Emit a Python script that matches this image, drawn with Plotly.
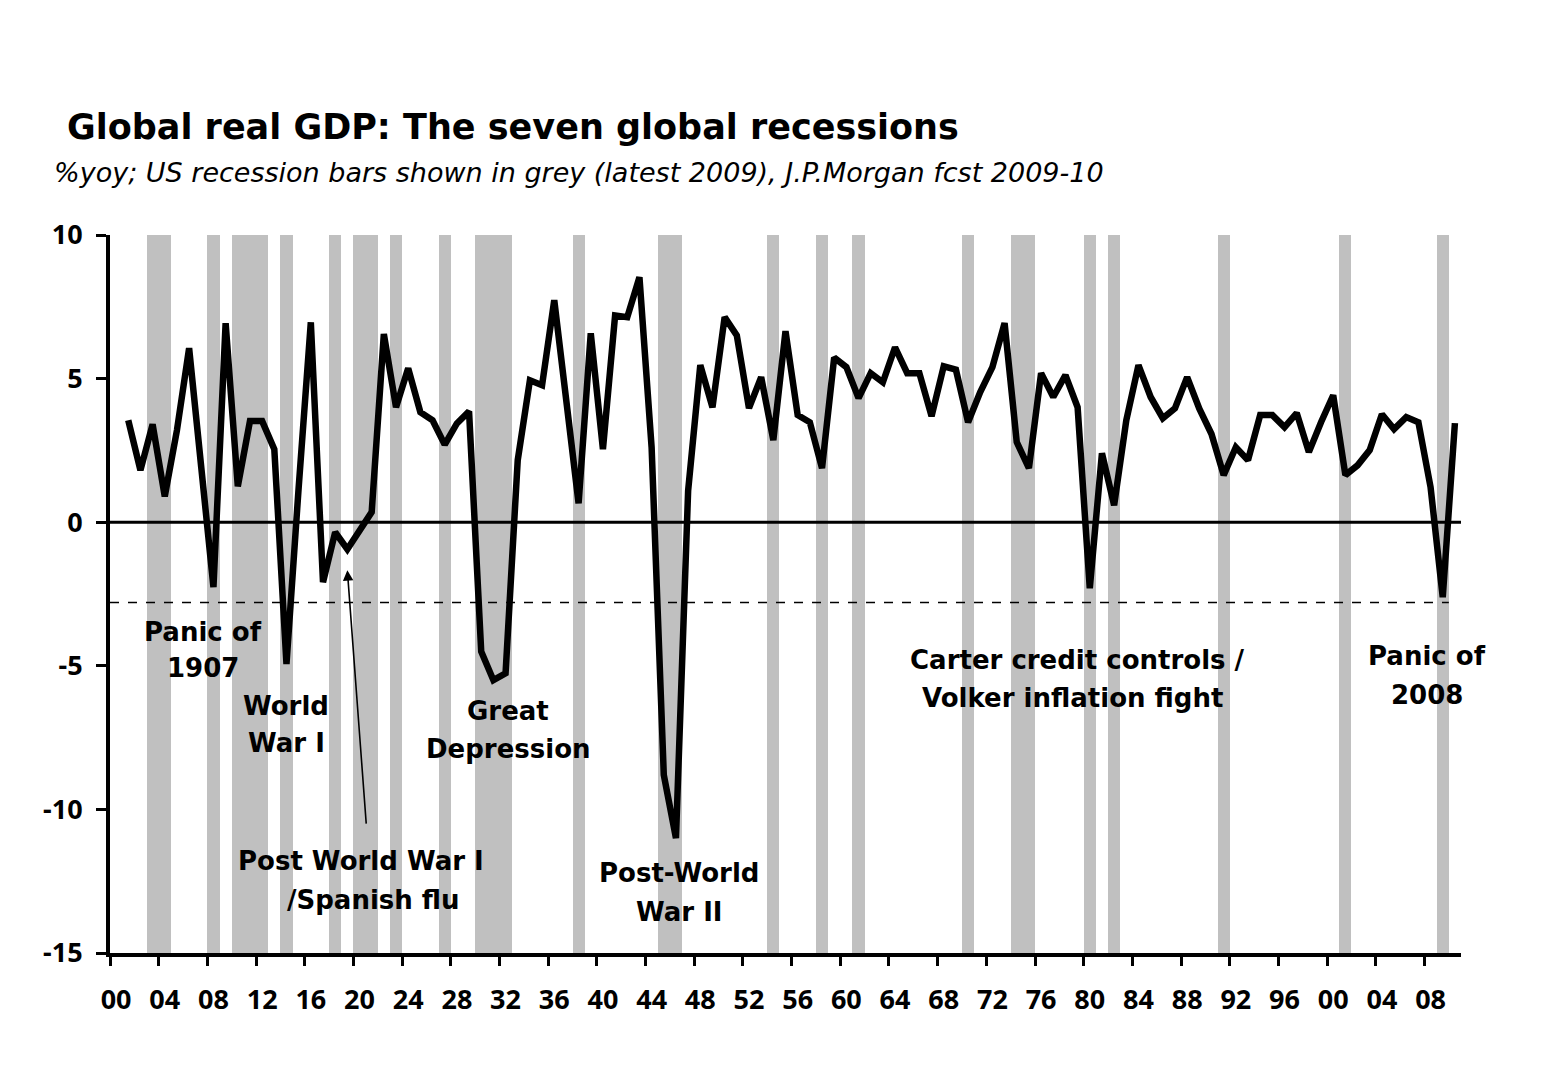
import plotly.graph_objects as go

# ---- data ----
years = list(range(1901, 2011))
gdp = [3.55, 1.81, 3.41, 0.9, 3.2, 6.06, 1.9, -2.26, 6.93, 1.25,
       3.52, 3.52, 2.54, -4.94, 1.2, 6.96, -2.09, -0.35, -0.94, -0.28,
       0.35, 6.55, 4.0, 5.36, 3.83, 3.55, 2.7, 3.44, 3.86, -4.5,
       -5.5, -5.26, 2.16, 4.94, 4.77, 7.73, 4.2, 0.66, 6.58, 2.54,
       7.2, 7.14, 8.53, 2.6, -8.8, -11.0, 1.1, 5.47, 4.0, 7.14,
       6.5, 3.97, 5.05, 2.86, 6.65, 3.73, 3.48, 1.88, 5.73, 5.4,
       4.32, 5.19, 4.87, 6.09, 5.19, 5.19, 3.69, 5.43, 5.31, 3.48,
       4.53, 5.4, 6.93, 2.79, 1.88, 5.19, 4.36, 5.12, 4.0, -2.3,
       2.4, 0.59, 3.55, 5.47, 4.36, 3.62, 3.97, 5.05, 3.95, 3.07,
       1.64, 2.61, 2.16, 3.73, 3.73, 3.31, 3.8, 2.44, 3.48, 4.42,
       1.64, 1.98, 2.51, 3.76, 3.24, 3.66, 3.48, 1.22, -2.61, 3.45]

us_recessions = [(1903, 1904), (1908, 1908), (1910, 1912), (1914, 1914), (1918, 1918),
                 (1920, 1921), (1923, 1923), (1927, 1927), (1930, 1932), (1938, 1938),
                 (1945, 1946), (1954, 1954), (1958, 1958), (1961, 1961), (1970, 1970),
                 (1974, 1975), (1980, 1980), (1982, 1982), (1991, 1991), (2001, 2001),
                 (2009, 2009)]
recession_years = [y for a, b in us_recessions for y in range(a, b + 1)]

threshold = -2.8
threshold_x = [1899.5, 2009.5]
tick_years = list(range(1900, 2010, 4))
tick_text = ["%02d" % (y % 100) for y in tick_years]
y_ticks = [-15, -10, -5, 0, 5, 10]
y_min, y_max = -15, 10
x_min, x_max = 1899.5, 2010.5

label_lines = [
    ("Panic of", 1907.1, -3.83), ("1907", 1907.1, -5.08),
    ("World", 1913.96, -6.41), ("War I", 1913.96, -7.70),
    ("Great", 1932.2, -6.58), ("Depression", 1932.2, -7.90),
    ("Post World War I", 1920.12, -11.81), ("/Spanish flu", 1921.19, -13.16),
    ("Post-World", 1946.25, -12.23), ("War II", 1946.25, -13.56),
    ("Carter credit controls /", 1978.96, -4.81), ("Volker inflation fight", 1978.55, -6.13),
    ("Panic of", 2007.7, -4.67), ("2008", 2007.7, -6.0),
]

FONT = "Noto Sans"
AFONT = "DejaVu Sans"

fig = go.Figure()

fig.add_trace(go.Bar(
    x=recession_years, y=[y_max - y_min] * len(recession_years), base=y_min,
    width=1, marker=dict(color="#C0C0C0", line=dict(width=0)),
    showlegend=False, hoverinfo="skip"))

fig.add_trace(go.Scatter(
    x=[x_min, x_max], y=[0, 0], mode="lines",
    line=dict(color="black", width=3), showlegend=False, hoverinfo="skip"))

fig.add_trace(go.Scatter(
    x=threshold_x, y=[threshold, threshold], mode="lines", xaxis="x2",
    line=dict(color="black", width=1.5, dash="dash"), showlegend=False, hoverinfo="skip"))

fig.add_trace(go.Scatter(
    x=years, y=gdp, mode="lines",
    line=dict(color="black", width=6.5), showlegend=False))

annotations = []
for txt, x, y in label_lines:
    annotations.append(dict(
        x=x, y=y, xref="x", yref="y", text=txt,
        showarrow=False, font=dict(family=AFONT, size=26, color="black", weight="bold"),
        align="center", xanchor="center", yanchor="middle"))

annotations.append(dict(
    x=1919.0, y=-1.67, xref="x", yref="y", text="", showarrow=True,
    ax=19, ay=255, arrowhead=2, arrowsize=1.3, arrowwidth=1.6, arrowcolor="black", standoff=0))

annotations.append(dict(
    x=-0.0333, y=1.150, xref="paper", yref="paper", xanchor="left", yanchor="middle",
    text="Global real GDP: The seven global recessions", showarrow=False,
    font=dict(family=AFONT, size=35, color="black", weight="bold")))
annotations.append(dict(
    x=-0.0429, y=1.0877, xref="paper", yref="paper", xanchor="left", yanchor="middle",
    text="%yoy; US recession bars shown in grey (latest 2009), J.P.Morgan fcst 2009-10",
    showarrow=False, font=dict(family=AFONT, size=27, color="black", style="italic")))

fig.update_layout(
    width=1555, height=1077, autosize=False,
    margin=dict(l=110, r=94, t=235, b=124, pad=0),
    paper_bgcolor="white", plot_bgcolor="white",
    barmode="overlay", bargap=0,
    annotations=annotations,
    font=dict(family=FONT, color="black"),
    xaxis=dict(range=[x_min, x_max], tickvals=tick_years, ticktext=tick_text,
               ticks="", showgrid=False, zeroline=False,
               showline=True, linecolor="black", linewidth=4,
               tickfont=dict(family=FONT, size=27, color="black", weight="bold"),
               ticklabelstandoff=20),
    xaxis2=dict(range=[x_min, x_max], overlaying="x", anchor="y", side="bottom",
                tickvals=[t - 0.5 for t in tick_years],
                ticks="outside", ticklen=12, tickwidth=3, tickcolor="black",
                showticklabels=False, showgrid=False, zeroline=False, showline=False),
    yaxis=dict(range=[y_min, y_max], tickvals=y_ticks,
               ticktext=[str(v) for v in y_ticks],
               ticks="outside", ticklen=10, tickwidth=3, tickcolor="black",
               showgrid=False, zeroline=False,
               showline=True, linecolor="black", linewidth=4,
               tickfont=dict(family=FONT, size=27, color="black", weight="bold"),
               ticklabelstandoff=8),
)

fig.write_html("out.html")
